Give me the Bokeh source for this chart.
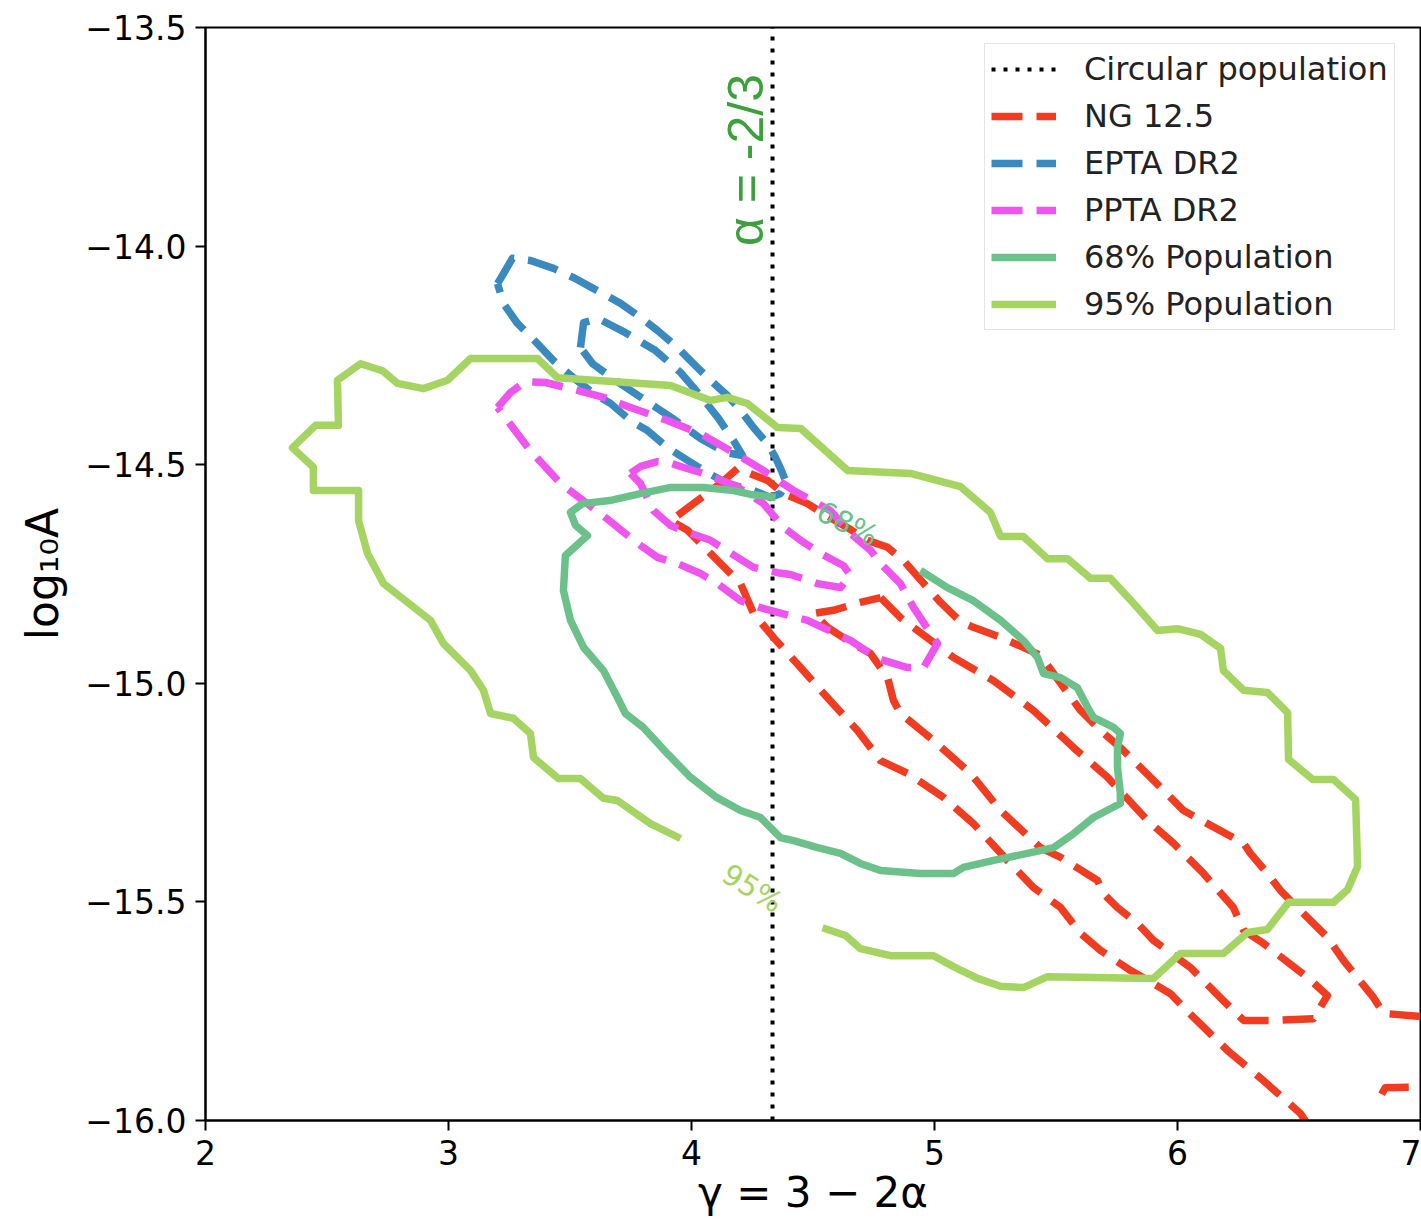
from math import pi

from bokeh.plotting import figure
from bokeh.models import (Range1d, FixedTicker, CustomJSTickFormatter, Label,
                          Legend, LegendItem)
from bokeh.embed import file_html
from bokeh.resources import INLINE

# Circular-orbit population: alpha = -2/3, i.e. gamma = 3 - 2*alpha
alpha_circular = -2 / 3
gamma_circular = 3 - 2 * alpha_circular

# Contour paths as (gamma, log10 A) pairs
ng_outer = [(7.0, -15.762), (6.848, -15.755), (6.807, -15.719), (6.683, -15.634),
            (6.617, -15.581), (6.506, -15.520), (6.424, -15.474), (6.370, -15.435),
            (6.300, -15.389), (6.272, -15.366), (6.123, -15.321), (6.025, -15.291),
            (5.889, -15.215), (5.765, -15.147), (5.683, -15.108), (5.601, -15.062),
            (5.519, -15.000), (5.436, -14.936), (5.366, -14.918), (5.272, -14.895),
            (5.160, -14.872), (5.107, -14.859), (5.025, -14.815), (4.942, -14.763),
            (4.872, -14.719), (4.807, -14.689), (4.724, -14.673), (4.642, -14.644),
            (4.543, -14.612), (4.477, -14.589), (4.379, -14.566), (4.313, -14.536),
            (4.189, -14.509), (4.119, -14.543), (4.025, -14.582), (3.914, -14.628),
            (3.984, -14.650), (4.078, -14.703), (4.202, -14.772), (4.255, -14.840),
            (4.337, -14.895), (4.449, -14.964), (4.543, -15.023), (4.683, -15.108),
            (4.778, -15.177), (4.889, -15.206), (5.037, -15.261), (5.160, -15.321),
            (5.300, -15.405), (5.407, -15.467), (5.519, -15.513), (5.601, -15.572),
            (5.683, -15.611), (5.807, -15.657), (5.901, -15.687), (5.971, -15.710),
            (6.066, -15.764), (6.206, -15.840), (6.354, -15.909), (6.506, -15.984),
            (6.531, -16.005)]
ng_outer_edge = [(6.840, -15.940), (6.855, -15.925), (7.0, -15.923)]
ng_inner = [(4.778, -14.804), (4.860, -14.850), (4.930, -14.879), (5.078, -14.941),
            (5.243, -14.994), (5.407, -15.062), (5.572, -15.147), (5.712, -15.215),
            (5.877, -15.314), (5.984, -15.366), (6.107, -15.435), (6.230, -15.513),
            (6.272, -15.565), (6.354, -15.595), (6.535, -15.673), (6.617, -15.714),
            (6.580, -15.748), (6.560, -15.767), (6.395, -15.771), (6.272, -15.771),
            (6.189, -15.726), (6.053, -15.650), (5.901, -15.588), (5.835, -15.549),
            (5.753, -15.513), (5.695, -15.481), (5.671, -15.451), (5.519, -15.398),
            (5.436, -15.376), (5.272, -15.291), (5.148, -15.206), (4.996, -15.131),
            (4.860, -15.069), (4.831, -15.039), (4.807, -14.987), (4.737, -14.932),
            (4.642, -14.902), (4.560, -14.872), (4.502, -14.840), (4.584, -14.833),
            (4.695, -14.815), (4.778, -14.804)]

epta_outer = [(3.202, -14.086), (3.263, -14.028), (3.337, -14.033), (3.432, -14.051),
              (3.514, -14.072), (3.626, -14.106), (3.708, -14.131), (3.790, -14.163),
              (3.860, -14.193), (3.942, -14.232), (4.008, -14.269), (4.078, -14.307),
              (4.148, -14.342), (4.202, -14.376), (4.255, -14.415), (4.313, -14.452),
              (4.346, -14.484), (4.370, -14.513), (4.391, -14.543), (4.366, -14.566),
              (4.325, -14.575), (4.255, -14.559), (4.148, -14.543), (4.049, -14.513),
              (3.984, -14.490), (3.901, -14.461), (3.819, -14.422), (3.749, -14.399),
              (3.667, -14.360), (3.597, -14.337), (3.514, -14.301), (3.432, -14.262),
              (3.366, -14.223), (3.284, -14.177), (3.226, -14.131), (3.202, -14.086)]
epta_inner = [(3.543, -14.232), (3.556, -14.175), (3.617, -14.166), (3.728, -14.198),
              (3.852, -14.239), (3.955, -14.289), (4.037, -14.342), (4.111, -14.394),
              (4.173, -14.445), (4.210, -14.479), (4.140, -14.472), (4.037, -14.440),
              (3.922, -14.394), (3.811, -14.353), (3.687, -14.307), (3.593, -14.269),
              (3.543, -14.232)]

ppta_outer = [(3.202, -14.369), (3.255, -14.335), (3.317, -14.310), (3.399, -14.312),
              (3.531, -14.330), (3.638, -14.346), (3.749, -14.369), (3.901, -14.399),
              (4.037, -14.429), (4.160, -14.468), (4.284, -14.509), (4.420, -14.559),
              (4.572, -14.605), (4.654, -14.657), (4.737, -14.696), (4.778, -14.726),
              (4.860, -14.772), (4.914, -14.827), (5.012, -14.909), (4.955, -14.964),
              (4.889, -14.964), (4.765, -14.943), (4.654, -14.902), (4.477, -14.856),
              (4.284, -14.827), (4.202, -14.811), (4.107, -14.772), (4.037, -14.749),
              (3.942, -14.726), (3.860, -14.712), (3.778, -14.680), (3.626, -14.612),
              (3.461, -14.543), (3.337, -14.468), (3.202, -14.369)]
ppta_inner = [(3.749, -14.520), (3.790, -14.504), (3.860, -14.493), (3.905, -14.495),
              (3.955, -14.504), (4.049, -14.520), (4.181, -14.548), (4.296, -14.589),
              (4.379, -14.644), (4.449, -14.673), (4.531, -14.703), (4.626, -14.731),
              (4.654, -14.753), (4.613, -14.781), (4.519, -14.772), (4.407, -14.751),
              (4.354, -14.747), (4.255, -14.735), (4.189, -14.712), (4.078, -14.673),
              (3.996, -14.657), (3.914, -14.639), (3.844, -14.605), (3.790, -14.543),
              (3.749, -14.520)]

pop_68 = [(4.346, -14.575), (4.243, -14.568), (4.173, -14.559), (4.049, -14.552),
          (3.914, -14.552), (3.790, -14.566), (3.663, -14.582), (3.551, -14.589),
          (3.502, -14.609), (3.523, -14.639), (3.572, -14.662), (3.481, -14.708),
          (3.473, -14.788), (3.502, -14.856), (3.556, -14.918), (3.638, -14.971),
          (3.695, -15.032), (3.728, -15.069), (3.802, -15.101), (3.901, -15.161),
          (3.996, -15.215), (4.103, -15.261), (4.202, -15.291), (4.284, -15.307),
          (4.325, -15.330), (4.366, -15.353), (4.420, -15.360), (4.519, -15.376),
          (4.613, -15.389), (4.695, -15.412), (4.778, -15.428), (4.942, -15.435),
          (5.078, -15.435), (5.119, -15.421), (5.243, -15.405), (5.383, -15.389),
          (5.490, -15.376), (5.572, -15.344), (5.654, -15.307), (5.765, -15.275),
          (5.765, -15.252), (5.753, -15.193), (5.753, -15.147), (5.765, -15.115),
          (5.737, -15.101), (5.654, -15.078), (5.630, -15.055), (5.588, -15.010),
          (5.519, -14.987), (5.449, -14.978), (5.424, -14.941), (5.366, -14.902),
          (5.272, -14.856), (5.160, -14.811), (5.053, -14.781), (4.942, -14.742)]
pop_95 = [(4.539, -15.559), (4.634, -15.577), (4.695, -15.607), (4.819, -15.623),
          (4.996, -15.623), (5.078, -15.648), (5.177, -15.675), (5.272, -15.693),
          (5.366, -15.696), (5.465, -15.671), (5.901, -15.675), (6.012, -15.618),
          (6.189, -15.618), (6.288, -15.570), (6.370, -15.563), (6.457, -15.501),
          (6.642, -15.501), (6.700, -15.472), (6.741, -15.419), (6.733, -15.266),
          (6.642, -15.220), (6.556, -15.220), (6.457, -15.174), (6.453, -15.067),
          (6.370, -15.021), (6.272, -15.016), (6.189, -14.971), (6.177, -14.920),
          (6.095, -14.888), (6.000, -14.875), (5.918, -14.879), (5.819, -14.817),
          (5.724, -14.760), (5.642, -14.760), (5.547, -14.715), (5.465, -14.715),
          (5.366, -14.664), (5.272, -14.664), (5.230, -14.609), (5.107, -14.550),
          (4.901, -14.520), (4.642, -14.513), (4.449, -14.417), (4.354, -14.415),
          (4.230, -14.360), (4.148, -14.346), (4.078, -14.353), (3.914, -14.319),
          (3.449, -14.301), (3.366, -14.257), (3.091, -14.257), (2.996, -14.307),
          (2.897, -14.326), (2.790, -14.314), (2.728, -14.285), (2.638, -14.269),
          (2.543, -14.307), (2.547, -14.410), (2.453, -14.410), (2.358, -14.461),
          (2.444, -14.506), (2.444, -14.559), (2.630, -14.559), (2.630, -14.628),
          (2.667, -14.703), (2.733, -14.772), (2.926, -14.856), (2.979, -14.909),
          (3.091, -14.971), (3.144, -15.016), (3.173, -15.069), (3.267, -15.080),
          (3.337, -15.115), (3.350, -15.170), (3.453, -15.218), (3.543, -15.218),
          (3.638, -15.263), (3.695, -15.268), (3.831, -15.321), (3.955, -15.355)]

# Inline contour-level labels: (text, gamma, log10A, rotation in degrees)
level_labels = [("68%", 4.642, -14.635, -26.7), ("95%", 4.251, -15.469, -32.0)]

x_ticks = [2, 3, 4, 5, 6, 7]
y_ticks = [-16.0, -15.5, -15.0, -14.5, -14.0, -13.5]

RED = "#f03c20"
BLUE = "#3a8ac0"
MAGENTA = "#ee55ee"
GREEN_68 = "#6cc18a"
GREEN_95 = "#a6d462"
TEXT_GREEN = "#3ca03c"
LW = 7.5
DASH = "31 14"

p = figure(width=1421, height=1225, x_range=Range1d(2, 7), y_range=Range1d(-16, -13.5),
           output_backend="svg", toolbar_location=None,
           min_border_left=205, min_border_right=1, min_border_top=27,
           min_border_bottom=105)
p.grid.visible = False
p.background_fill_color = "white"
p.border_fill_color = "white"
p.outline_line_color = "black"
p.outline_line_width = 2
p.outline_line_alpha = 1

for ax in (p.xaxis, p.yaxis):
    ax.axis_line_width = 2
    ax.axis_line_color = "black"
    ax.major_tick_line_width = 2
    ax.major_tick_line_color = "black"
    ax.major_tick_out = 10
    ax.major_tick_in = 0
    ax.minor_tick_line_color = None
    ax.major_label_text_font = "DejaVu Sans"
    ax.major_label_text_font_size = "33px"
    ax.major_label_text_color = "black"
    ax.axis_label_text_font = "DejaVu Sans"
    ax.axis_label_text_font_style = "normal"
    ax.axis_label_text_color = "black"
p.xaxis.ticker = FixedTicker(ticks=x_ticks)
p.yaxis.ticker = FixedTicker(ticks=y_ticks)
p.yaxis.formatter = CustomJSTickFormatter(
    code="return (tick < 0 ? '\u2212' : '') + Math.abs(tick).toFixed(1);")
p.xaxis.major_label_standoff = 9
p.yaxis.major_label_standoff = 9

p.xaxis.axis_label = "γ = 3 \u2212 2α"
p.xaxis.axis_label_text_font_size = "42px"
p.xaxis.axis_label_standoff = 0
p.yaxis.axis_label = "log\u2081\u2080A"
p.yaxis.axis_label_text_font_size = "44px"
p.yaxis.axis_label_standoff = 14


def path(points, color, dash):
    xs = [pt[0] for pt in points]
    ys = [pt[1] for pt in points]
    return p.line(xs, ys, line_color=color, line_width=LW, line_dash=dash,
                  line_join="round")


r_circ = p.line([gamma_circular, gamma_circular], [y_ticks[0], y_ticks[-1]],
                line_color="black", line_width=4, line_dash="4 8")
r_ng = path(ng_outer, RED, DASH)
path(ng_outer_edge, RED, DASH)
path(ng_inner, RED, DASH)
r_epta = path(epta_outer, BLUE, DASH)
path(epta_inner, BLUE, DASH)
r_ppta = path(ppta_outer, MAGENTA, DASH)
path(ppta_inner, MAGENTA, DASH)
r_68 = path(pop_68, GREEN_68, "solid")
r_95 = path(pop_95, GREEN_95, "solid")

for (txt, gx, gy, rot), col in zip(level_labels, [GREEN_68, GREEN_95]):
    p.add_layout(Label(x=gx, y=gy, text=txt, angle=rot * pi / 180,
                       text_align="center", text_baseline="middle",
                       text_font="DejaVu Sans", text_font_size="29px",
                       text_color=col))

p.add_layout(Label(x=4.226, y=-14.0, text="α = -2/3", angle=pi / 2,
                   text_align="left", text_baseline="middle",
                   text_font="Liberation Sans", text_font_size="50px",
                   text_color=TEXT_GREEN))

legend = Legend(items=[
    LegendItem(label="Circular population", renderers=[r_circ]),
    LegendItem(label="NG 12.5", renderers=[r_ng]),
    LegendItem(label="EPTA DR2", renderers=[r_epta]),
    LegendItem(label="PPTA DR2", renderers=[r_ppta]),
    LegendItem(label="68% Population", renderers=[r_68]),
    LegendItem(label="95% Population", renderers=[r_95]),
], location=(779, 790))
legend.label_text_font = "DejaVu Sans"
legend.label_text_font_size = "32px"
legend.label_text_color = "#222222"
legend.glyph_width = 65
legend.glyph_height = 38
legend.label_height = 38
legend.label_standoff = 28
legend.spacing = 9
legend.padding = 6
legend.margin = 0
legend.border_line_color = "#cccccc"
legend.border_line_width = 1.5
legend.background_fill_color = "white"
legend.background_fill_alpha = 0.8
p.add_layout(legend)

open("out.html", "w").write(file_html(p, INLINE))
